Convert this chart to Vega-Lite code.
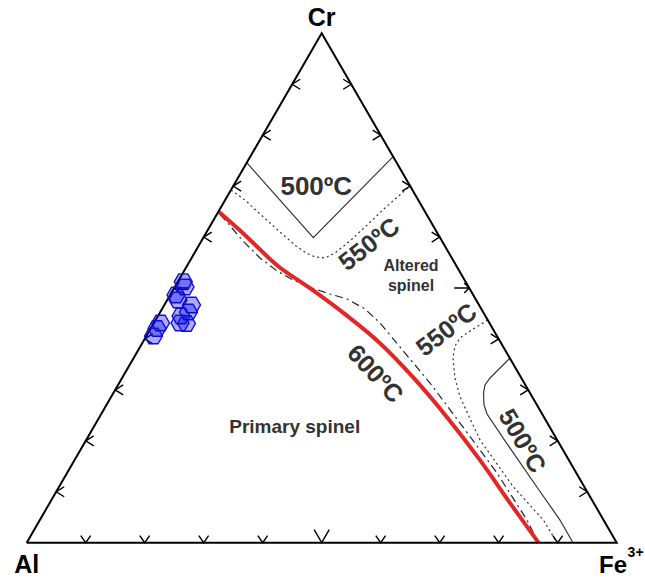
{
  "$schema": "https://vega.github.io/schema/vega-lite/v6.json",
  "width": 590,
  "height": 509.4,
  "autosize": "none",
  "padding": {"left": 26.7, "top": 33.3, "right": 28.3, "bottom": 36.3},
  "background": "white",
  "config": {"view": {"stroke": null}, "font": "Liberation Sans"},
  "datasets": {
    "curves": [
      {"curve": "tri", "i": 0, "x": 0, "y": 0},
      {"curve": "tri", "i": 1, "x": 1, "y": 0},
      {"curve": "tri", "i": 2, "x": 0.5, "y": 1},
      {"curve": "tri", "i": 3, "x": 0, "y": 0},

      {"curve": "red600", "i": 0, "x": 0.3259, "y": 0.6492},
      {"curve": "red600", "i": 1, "x": 0.3666, "y": 0.6076},
      {"curve": "red600", "i": 2, "x": 0.4242, "y": 0.5448},
      {"curve": "red600", "i": 3, "x": 0.4802, "y": 0.4996},
      {"curve": "red600", "i": 4, "x": 0.5395, "y": 0.4486},
      {"curve": "red600", "i": 5, "x": 0.5988, "y": 0.3917},
      {"curve": "red600", "i": 6, "x": 0.6547, "y": 0.325},
      {"curve": "red600", "i": 7, "x": 0.7124, "y": 0.2464},
      {"curve": "red600", "i": 8, "x": 0.7683, "y": 0.162},
      {"curve": "red600", "i": 9, "x": 0.8242, "y": 0.0697},
      {"curve": "red600", "i": 10, "x": 0.8675, "y": 0},

      {"curve": "s500a", "i": 0, "x": 0.373, "y": 0.746},
      {"curve": "s500a", "i": 1, "x": 0.4858, "y": 0.5987},
      {"curve": "s500a", "i": 2, "x": 0.6211, "y": 0.7578},

      {"curve": "s500b", "i": 0, "x": 0.819, "y": 0.362},
      {"curve": "s500b", "i": 1, "x": 0.7853, "y": 0.3233},
      {"curve": "s500b", "i": 2, "x": 0.7768, "y": 0.3096},
      {"curve": "s500b", "i": 3, "x": 0.7742, "y": 0.2939},
      {"curve": "s500b", "i": 4, "x": 0.7751, "y": 0.2703},
      {"curve": "s500b", "i": 5, "x": 0.7802, "y": 0.2527},
      {"curve": "s500b", "i": 6, "x": 0.8136, "y": 0.1951},
      {"curve": "s500b", "i": 7, "x": 0.8644, "y": 0.1099},
      {"curve": "s500b", "i": 8, "x": 0.9039, "y": 0.0445},
      {"curve": "s500b", "i": 9, "x": 0.9259, "y": 0},

      {"curve": "d550a", "i": 0, "x": 0.3463, "y": 0.6924},
      {"curve": "d550a", "i": 1, "x": 0.37, "y": 0.6728},
      {"curve": "d550a", "i": 2, "x": 0.3954, "y": 0.6453},
      {"curve": "d550a", "i": 3, "x": 0.4293, "y": 0.61},
      {"curve": "d550a", "i": 4, "x": 0.4564, "y": 0.5825},
      {"curve": "d550a", "i": 5, "x": 0.4734, "y": 0.5688},
      {"curve": "d550a", "i": 6, "x": 0.4886, "y": 0.5609},
      {"curve": "d550a", "i": 7, "x": 0.5056, "y": 0.5589},
      {"curve": "d550a", "i": 8, "x": 0.5225, "y": 0.5688},
      {"curve": "d550a", "i": 9, "x": 0.548, "y": 0.5923},
      {"curve": "d550a", "i": 10, "x": 0.5734, "y": 0.6198},
      {"curve": "d550a", "i": 11, "x": 0.6073, "y": 0.6571},
      {"curve": "d550a", "i": 12, "x": 0.6498, "y": 0.7003},

      {"curve": "d550b", "i": 0, "x": 0.7814, "y": 0.4372},
      {"curve": "d550b", "i": 1, "x": 0.7514, "y": 0.4156},
      {"curve": "d550b", "i": 2, "x": 0.7344, "y": 0.4019},
      {"curve": "d550b", "i": 3, "x": 0.7259, "y": 0.3862},
      {"curve": "d550b", "i": 4, "x": 0.7225, "y": 0.3627},
      {"curve": "d550b", "i": 5, "x": 0.7259, "y": 0.3234},
      {"curve": "d550b", "i": 6, "x": 0.7344, "y": 0.2861},
      {"curve": "d550b", "i": 7, "x": 0.7683, "y": 0.2017},
      {"curve": "d550b", "i": 8, "x": 0.8247, "y": 0.1099},
      {"curve": "d550b", "i": 9, "x": 0.8756, "y": 0.0446},
      {"curve": "d550b", "i": 10, "x": 0.8988, "y": 0},

      {"curve": "dd", "i": 0, "x": 0.3276, "y": 0.6445},
      {"curve": "dd", "i": 1, "x": 0.348, "y": 0.6178},
      {"curve": "dd", "i": 2, "x": 0.3649, "y": 0.5943},
      {"curve": "dd", "i": 3, "x": 0.3954, "y": 0.559},
      {"curve": "dd", "i": 4, "x": 0.4242, "y": 0.5334},
      {"curve": "dd", "i": 5, "x": 0.4547, "y": 0.5138},
      {"curve": "dd", "i": 6, "x": 0.4835, "y": 0.5},
      {"curve": "dd", "i": 7, "x": 0.5141, "y": 0.4882},
      {"curve": "dd", "i": 8, "x": 0.5429, "y": 0.4784},
      {"curve": "dd", "i": 9, "x": 0.5734, "y": 0.4588},
      {"curve": "dd", "i": 10, "x": 0.5988, "y": 0.4313},
      {"curve": "dd", "i": 11, "x": 0.6327, "y": 0.3842},
      {"curve": "dd", "i": 12, "x": 0.6835, "y": 0.3135},
      {"curve": "dd", "i": 13, "x": 0.7395, "y": 0.2271},
      {"curve": "dd", "i": 14, "x": 0.7971, "y": 0.1368},
      {"curve": "dd", "i": 15, "x": 0.848, "y": 0.0445},
      {"curve": "dd", "i": 16, "x": 0.8649, "y": 0.0053}
    ],
    "ticks": [
      {"kind": "L", "x": 0.05, "y": 0.1}, {"kind": "L", "x": 0.1, "y": 0.2}, {"kind": "L", "x": 0.15, "y": 0.3},
      {"kind": "L", "x": 0.2, "y": 0.4}, {"kind": "LB", "x": 0.25, "y": 0.5}, {"kind": "L", "x": 0.3, "y": 0.6},
      {"kind": "L", "x": 0.35, "y": 0.7}, {"kind": "L", "x": 0.4, "y": 0.8}, {"kind": "L", "x": 0.45, "y": 0.9},
      {"kind": "R", "x": 0.95, "y": 0.1}, {"kind": "R", "x": 0.9, "y": 0.2}, {"kind": "R", "x": 0.85, "y": 0.3},
      {"kind": "R", "x": 0.8, "y": 0.4}, {"kind": "RB", "x": 0.75, "y": 0.5}, {"kind": "R", "x": 0.7, "y": 0.6},
      {"kind": "R", "x": 0.65, "y": 0.7}, {"kind": "R", "x": 0.6, "y": 0.8}, {"kind": "R", "x": 0.55, "y": 0.9},
      {"kind": "B", "x": 0.1, "y": 0}, {"kind": "B", "x": 0.2, "y": 0}, {"kind": "B", "x": 0.3, "y": 0},
      {"kind": "B", "x": 0.4, "y": 0}, {"kind": "BB", "x": 0.5, "y": 0}, {"kind": "B", "x": 0.6, "y": 0},
      {"kind": "B", "x": 0.7, "y": 0}, {"kind": "B", "x": 0.8, "y": 0}, {"kind": "B", "x": 0.9, "y": 0}
    ],
    "samples": [
      {"x": 0.2654, "y": 0.5124},
      {"x": 0.2683, "y": 0.502},
      {"x": 0.2531, "y": 0.4863},
      {"x": 0.2564, "y": 0.4765},
      {"x": 0.2793, "y": 0.4666},
      {"x": 0.2742, "y": 0.4529},
      {"x": 0.2615, "y": 0.445},
      {"x": 0.2598, "y": 0.4313},
      {"x": 0.2708, "y": 0.4303},
      {"x": 0.2268, "y": 0.4313},
      {"x": 0.2208, "y": 0.4205},
      {"x": 0.2149, "y": 0.4058}
    ]
  },
  "layer": [
    {
      "data": {"name": "curves"},
      "transform": [{"filter": {"field": "curve", "oneOf": ["s500a", "s500b"]}}],
      "mark": {"type": "line", "stroke": "#333333", "strokeWidth": 1.2, "clip": false},
      "encoding": {
        "x": {"field": "x", "type": "quantitative", "scale": {"domain": [0, 1], "nice": false, "zero": false}, "axis": null},
        "y": {"field": "y", "type": "quantitative", "scale": {"domain": [0, 1], "nice": false, "zero": false}, "axis": null},
        "detail": {"field": "curve"},
        "order": {"field": "i", "type": "quantitative"}
      }
    },
    {
      "data": {"name": "curves"},
      "transform": [{"filter": {"field": "curve", "oneOf": ["d550a", "d550b"]}}],
      "mark": {"type": "line", "stroke": "#333333", "strokeWidth": 1.2, "strokeDash": [2, 3], "clip": false},
      "encoding": {
        "x": {"field": "x", "type": "quantitative", "axis": null},
        "y": {"field": "y", "type": "quantitative", "axis": null},
        "detail": {"field": "curve"},
        "order": {"field": "i", "type": "quantitative"}
      }
    },
    {
      "data": {"name": "curves"},
      "transform": [{"filter": {"field": "curve", "equal": "dd"}}],
      "mark": {"type": "line", "stroke": "#222222", "strokeWidth": 1.2, "strokeDash": [8, 4, 2, 4], "clip": false},
      "encoding": {
        "x": {"field": "x", "type": "quantitative", "axis": null},
        "y": {"field": "y", "type": "quantitative", "axis": null},
        "order": {"field": "i", "type": "quantitative"}
      }
    },
    {
      "data": {"name": "curves"},
      "transform": [{"filter": {"field": "curve", "equal": "red600"}}],
      "mark": {"type": "line", "stroke": "#e32626", "strokeWidth": 4, "interpolate": "monotone", "clip": false},
      "encoding": {
        "x": {"field": "x", "type": "quantitative", "axis": null},
        "y": {"field": "y", "type": "quantitative", "axis": null},
        "order": {"field": "i", "type": "quantitative"}
      }
    },
    {
      "data": {"name": "curves"},
      "transform": [{"filter": {"field": "curve", "equal": "tri"}}],
      "mark": {"type": "line", "stroke": "black", "strokeWidth": 2, "strokeJoin": "miter", "clip": false},
      "encoding": {
        "x": {"field": "x", "type": "quantitative", "axis": null},
        "y": {"field": "y", "type": "quantitative", "axis": null},
        "order": {"field": "i", "type": "quantitative"}
      }
    },
    {
      "data": {"name": "ticks"},
      "transform": [{"filter": {"field": "kind", "equal": "L"}}],
      "mark": {"type": "point", "shape": "M1,-0.625L0,0L1,0.625", "size": 256, "filled": false, "stroke": "black", "strokeWidth": 1.4, "opacity": 1, "clip": false},
      "encoding": {
        "x": {"field": "x", "type": "quantitative", "axis": null},
        "y": {"field": "y", "type": "quantitative", "axis": null}
      }
    },
    {
      "data": {"name": "ticks"},
      "transform": [{"filter": {"field": "kind", "equal": "LB"}}],
      "mark": {"type": "point", "shape": "M1,0L0,0M0.33,-0.33L0,0L0.33,0.33", "size": 900, "filled": false, "stroke": "black", "strokeWidth": 1.4, "opacity": 1, "clip": false},
      "encoding": {
        "x": {"field": "x", "type": "quantitative", "axis": null},
        "y": {"field": "y", "type": "quantitative", "axis": null}
      }
    },
    {
      "data": {"name": "ticks"},
      "transform": [{"filter": {"field": "kind", "equal": "R"}}],
      "mark": {"type": "point", "shape": "M-1,-0.625L0,0L-1,0.625", "size": 256, "filled": false, "stroke": "black", "strokeWidth": 1.4, "opacity": 1, "clip": false},
      "encoding": {
        "x": {"field": "x", "type": "quantitative", "axis": null},
        "y": {"field": "y", "type": "quantitative", "axis": null}
      }
    },
    {
      "data": {"name": "ticks"},
      "transform": [{"filter": {"field": "kind", "equal": "RB"}}],
      "mark": {"type": "point", "shape": "M-1,0L0,0M-0.33,-0.33L0,0L-0.33,0.33", "size": 900, "filled": false, "stroke": "black", "strokeWidth": 1.4, "opacity": 1, "clip": false},
      "encoding": {
        "x": {"field": "x", "type": "quantitative", "axis": null},
        "y": {"field": "y", "type": "quantitative", "axis": null}
      }
    },
    {
      "data": {"name": "ticks"},
      "transform": [{"filter": {"field": "kind", "equal": "B"}}],
      "mark": {"type": "point", "shape": "M-0.7,-1L0,0L0.7,-1", "size": 196, "filled": false, "stroke": "black", "strokeWidth": 1.4, "opacity": 1, "clip": false},
      "encoding": {
        "x": {"field": "x", "type": "quantitative", "axis": null},
        "y": {"field": "y", "type": "quantitative", "axis": null}
      }
    },
    {
      "data": {"name": "ticks"},
      "transform": [{"filter": {"field": "kind", "equal": "BB"}}],
      "mark": {"type": "point", "shape": "M-0.577,-1L0,0L0.577,-1", "size": 676, "filled": false, "stroke": "black", "strokeWidth": 1.4, "opacity": 1, "clip": false},
      "encoding": {
        "x": {"field": "x", "type": "quantitative", "axis": null},
        "y": {"field": "y", "type": "quantitative", "axis": null}
      }
    },
    {
      "data": {"name": "samples"},
      "mark": {"type": "point", "shape": "M-1,0L-0.5,-0.866L0.5,-0.866L1,0L0.5,0.866L-0.5,0.866Z", "size": 324, "filled": true, "fill": "#0000ee", "fillOpacity": 0.33, "stroke": "#1010d0", "strokeWidth": 1.4, "opacity": 1, "clip": false},
      "encoding": {
        "x": {"field": "x", "type": "quantitative", "axis": null},
        "y": {"field": "y", "type": "quantitative", "axis": null}
      }
    },
    {
      "data": {"values": [
        {"label": "Cr", "x": 0.5, "y": 1.0134},
        {"label": "Al", "x": 0.0, "y": -0.0601}
      ]},
      "mark": {"type": "text", "font": "Liberation Sans", "fontWeight": "bold", "fontSize": 25, "color": "black", "align": "center", "baseline": "alphabetic", "clip": false},
      "encoding": {
        "x": {"field": "x", "type": "quantitative", "axis": null},
        "y": {"field": "y", "type": "quantitative", "axis": null},
        "text": {"field": "label"}
      }
    },
    {
      "data": {"values": [{"label": "Fe", "x": 1.0175, "y": -0.0601}]},
      "mark": {"type": "text", "font": "Liberation Sans", "fontWeight": "bold", "fontSize": 24, "color": "black", "align": "right", "baseline": "alphabetic", "clip": false},
      "encoding": {
        "x": {"field": "x", "type": "quantitative", "axis": null},
        "y": {"field": "y", "type": "quantitative", "axis": null},
        "text": {"field": "label"}
      }
    },
    {
      "data": {"values": [{"label": "3+", "x": 1.0185, "y": -0.0281}]},
      "mark": {"type": "text", "font": "Liberation Sans", "fontWeight": "bold", "fontSize": 14, "color": "black", "align": "left", "baseline": "alphabetic", "clip": false},
      "encoding": {
        "x": {"field": "x", "type": "quantitative", "axis": null},
        "y": {"field": "y", "type": "quantitative", "axis": null},
        "text": {"field": "label"}
      }
    },
    {
      "data": {"values": [{"label": "500ºC", "x": 0.4908, "y": 0.6989}]},
      "mark": {"type": "text", "font": "Liberation Sans", "fontWeight": "bold", "fontSize": 26, "color": "#333333", "align": "center", "baseline": "middle", "clip": false},
      "encoding": {
        "x": {"field": "x", "type": "quantitative", "axis": null},
        "y": {"field": "y", "type": "quantitative", "axis": null},
        "text": {"field": "label"}
      }
    },
    {
      "data": {"values": [{"label": "550ºC", "x": 0.5807, "y": 0.5855}, {"label": "550ºC", "x": 0.7119, "y": 0.4175}]},
      "mark": {"type": "text", "font": "Liberation Sans", "fontWeight": "bold", "fontSize": 25, "color": "#333333", "align": "center", "baseline": "middle", "angle": -38, "clip": false},
      "encoding": {
        "x": {"field": "x", "type": "quantitative", "axis": null},
        "y": {"field": "y", "type": "quantitative", "axis": null},
        "text": {"field": "label"}
      }
    },
    {
      "data": {"values": [{"label": "600ºC", "x": 0.5903, "y": 0.3312}]},
      "mark": {"type": "text", "font": "Liberation Sans", "fontWeight": "bold", "fontSize": 25, "color": "#333333", "align": "center", "baseline": "middle", "angle": 47, "clip": false},
      "encoding": {
        "x": {"field": "x", "type": "quantitative", "axis": null},
        "y": {"field": "y", "type": "quantitative", "axis": null},
        "text": {"field": "label"}
      }
    },
    {
      "data": {"values": [{"label": "500ºC", "x": 0.8395, "y": 0.1996}]},
      "mark": {"type": "text", "font": "Liberation Sans", "fontWeight": "bold", "fontSize": 25, "color": "#333333", "align": "center", "baseline": "middle", "angle": 60, "clip": false},
      "encoding": {
        "x": {"field": "x", "type": "quantitative", "axis": null},
        "y": {"field": "y", "type": "quantitative", "axis": null},
        "text": {"field": "label"}
      }
    },
    {
      "data": {"values": [{"label": "Altered", "x": 0.6514, "y": 0.5432}, {"label": "spinel", "x": 0.6514, "y": 0.5039}]},
      "mark": {"type": "text", "font": "Liberation Sans", "fontWeight": "bold", "fontSize": 16, "color": "#333333", "align": "center", "baseline": "middle", "clip": false},
      "encoding": {
        "x": {"field": "x", "type": "quantitative", "axis": null},
        "y": {"field": "y", "type": "quantitative", "axis": null},
        "text": {"field": "label"}
      }
    },
    {
      "data": {"values": [{"label": "Primary spinel", "x": 0.4542, "y": 0.2281}]},
      "mark": {"type": "text", "font": "Liberation Sans", "fontWeight": "bold", "fontSize": 19, "color": "#333333", "align": "center", "baseline": "middle", "clip": false},
      "encoding": {
        "x": {"field": "x", "type": "quantitative", "axis": null},
        "y": {"field": "y", "type": "quantitative", "axis": null},
        "text": {"field": "label"}
      }
    }
  ]
}
